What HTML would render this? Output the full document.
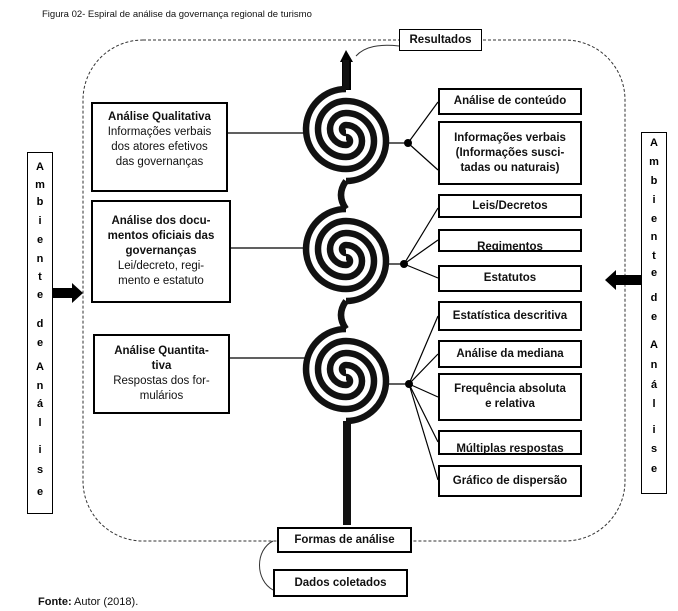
<!DOCTYPE html>
<html><head><meta charset="utf-8"><style>
body{margin:0;width:678px;height:611px;background:#fff;font-family:"Liberation Sans",sans-serif;overflow:hidden;position:relative}
.b{position:absolute;border:2px solid #000;background:#fff;box-sizing:border-box;text-align:center;font-size:11.5px;line-height:15px;color:#111;display:flex;align-items:center;justify-content:center;flex-direction:column}
.r{font-weight:bold;font-size:11.5px}
.t{position:absolute;border:1px solid #000;box-sizing:border-box;background:#fff;font-weight:bold;font-size:11px}
.t span{position:absolute;left:0;width:100%;text-align:center}
</style></head><body>
<div style="position:absolute;left:42px;top:9px;font-size:9.5px;color:#111">Figura 02- Espiral de análise da governança regional de turismo</div>
<div style="position:absolute;left:38px;top:596px;font-size:11px;color:#111"><b>Fonte:</b> Autor (2018).</div>
<svg width="678" height="611" style="position:absolute;left:0;top:0">
<rect x="83" y="40" width="542" height="501" rx="60" fill="none" stroke="#333" stroke-width="1" stroke-dasharray="3,2"/>
<path d="M399 46 C380 44 365 46 356 56" fill="none" stroke="#333" stroke-width="1"/>
<path d="M273 541 C255 550 255 580 273 590" fill="none" stroke="#333" stroke-width="1"/>
<g stroke="#000" stroke-width="1.2">
<line x1="228" y1="133" x2="306" y2="133"/><line x1="231" y1="248" x2="306" y2="248"/><line x1="230" y1="358" x2="306" y2="358"/>
<line x1="386" y1="143" x2="408" y2="143"/><line x1="408" y1="143" x2="438" y2="102"/><line x1="408" y1="143" x2="438" y2="170"/>
<line x1="386" y1="264" x2="404" y2="264"/><line x1="404" y1="264" x2="438" y2="208"/><line x1="404" y1="264" x2="438" y2="240"/><line x1="404" y1="264" x2="438" y2="278"/>
<line x1="386" y1="384" x2="409" y2="384"/><line x1="409" y1="384" x2="438" y2="316"/><line x1="409" y1="384" x2="438" y2="354"/><line x1="409" y1="384" x2="438" y2="397"/><line x1="409" y1="384" x2="438" y2="442"/><line x1="409" y1="384" x2="438" y2="480"/>
</g>
<circle cx="408" cy="143" r="4"/><circle cx="404" cy="264" r="4"/><circle cx="409" cy="384" r="4"/>
<polygon points="340,62 346,50 353,62 351,62 351,90 342,90 342,62"/>
<polygon points="52,288 72,288 72,283 83,293 72,303 72,298 52,298"/>
<polygon points="641,275 616,275 616,270 605,280 616,290 616,285 641,285"/>
<g fill="none" stroke="#111" stroke-width="6.5">
<path d="M346 60 V89"/>
<path d="M346 181 Q336 195 346 209"/>
<path d="M346 301 Q336 315 346 329"/>
<path d="M347 421 V525" stroke-width="8"/>
<g id="s">
<path d="M346 89 A40 40 0 0 0 346 169 A28 28 0 0 0 346 113 A16 16 0 0 0 346 145 A4 4 0 0 0 346 137"/>
<path d="M346 181 A40 40 0 0 0 346 101 A28 28 0 0 0 346 157 A16 16 0 0 0 346 125 A4 4 0 0 0 346 133"/>
</g>
<use href="#s" y="120"/>
<use href="#s" y="240"/>
</g>
</svg>
<div class="b" style="left:399px;top:29px;width:83px;height:22px;border-width:1px;font-weight:bold">Resultados</div>
<div class="b" style="left:91px;top:102px;width:137px;height:90px;justify-content:flex-start;padding-top:6px"><b>Análise Qualitativa</b>Informações verbais<br>dos atores efetivos<br>das governanças</div>
<div class="b" style="left:91px;top:200px;width:140px;height:103px"><b>Análise dos docu-<br>mentos oficiais das<br>governanças</b>Lei/decreto, regi-<br>mento e estatuto</div>
<div class="b" style="left:93px;top:334px;width:137px;height:80px"><b>Análise Quantita-<br>tiva</b>Respostas dos for-<br>mulários</div>
<div class="b r" style="left:438px;top:88px;width:144px;height:27px">Análise de conteúdo</div>
<div class="b r" style="left:438px;top:121px;width:144px;height:64px">Informações verbais<br>(Informações susci-<br>tadas ou naturais)</div>
<div class="b r" style="left:438px;top:194px;width:144px;height:24px">Leis/Decretos</div>
<div class="b r" style="left:438px;top:229px;width:144px;height:23px;justify-content:flex-end;overflow:hidden"><span style="margin-bottom:-5px">Regimentos</span></div>
<div class="b r" style="left:438px;top:265px;width:144px;height:27px">Estatutos</div>
<div class="b r" style="left:438px;top:301px;width:144px;height:30px">Estatística descritiva</div>
<div class="b r" style="left:438px;top:340px;width:144px;height:28px">Análise da mediana</div>
<div class="b r" style="left:438px;top:373px;width:144px;height:48px">Frequência absoluta<br>e relativa</div>
<div class="b r" style="left:438px;top:430px;width:144px;height:25px;justify-content:flex-end;overflow:hidden"><span style="margin-bottom:-4px">Múltiplas respostas</span></div>
<div class="b r" style="left:438px;top:465px;width:144px;height:32px">Gráfico de dispersão</div>
<div class="b r" style="left:277px;top:527px;width:135px;height:26px">Formas de análise</div>
<div class="b r" style="left:273px;top:569px;width:135px;height:28px">Dados coletados</div>
<div class="t" style="left:27px;top:152px;width:26px;height:362px">
<span style="top:8px">A</span><span style="top:26px">m</span><span style="top:43px">b</span><span style="top:62px">i</span><span style="top:81px">e</span><span style="top:100px">n</span><span style="top:118px">t</span><span style="top:136px">e</span><span style="top:165px">d</span><span style="top:184px">e</span><span style="top:208px">A</span><span style="top:227px">n</span><span style="top:245px">á</span><span style="top:264px">l</span><span style="top:291px">i</span><span style="top:311px">s</span><span style="top:333px">e</span></div>
<div class="t" style="left:641px;top:132px;width:26px;height:362px">
<span style="top:4px">A</span><span style="top:23px">m</span><span style="top:42px">b</span><span style="top:61px">i</span><span style="top:80px">e</span><span style="top:98px">n</span><span style="top:117px">t</span><span style="top:134px">e</span><span style="top:159px">d</span><span style="top:178px">e</span><span style="top:206px">A</span><span style="top:226px">n</span><span style="top:246px">á</span><span style="top:265px">l</span><span style="top:291px">i</span><span style="top:310px">s</span><span style="top:330px">e</span></div>
</body></html>
